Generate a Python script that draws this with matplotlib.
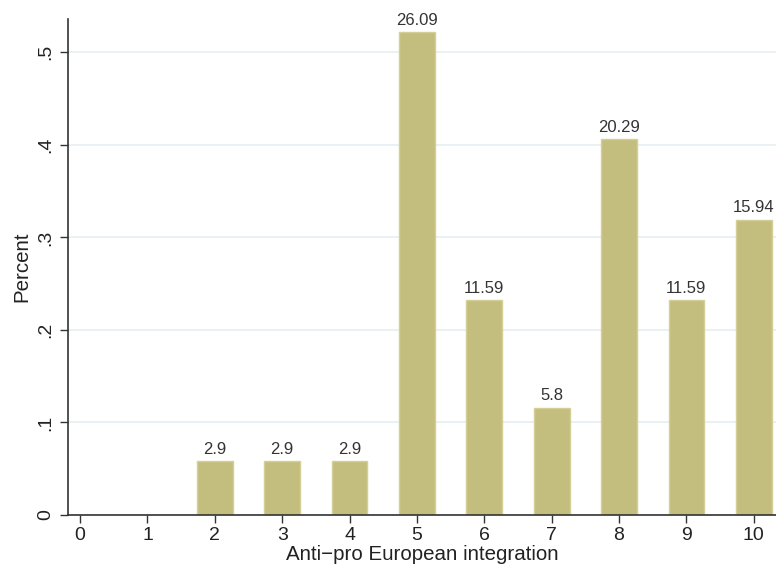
import matplotlib
matplotlib.use("Agg")
import matplotlib.pyplot as plt

plt.rcParams['font.family'] = ['Liberation Sans', 'DejaVu Sans']

categories = [2, 3, 4, 5, 6, 7, 8, 9, 10]
percent_labels = [2.9, 2.9, 2.9, 26.09, 11.59, 5.8, 20.29, 11.59, 15.94]
heights = [0.058, 0.058, 0.058, 0.5218, 0.2318, 0.116, 0.4058, 0.2318, 0.3188]
xticks = list(range(0, 11))
yticks = [0, 0.1, 0.2, 0.3, 0.4, 0.5]
yticklabels = ['0', '.1', '.2', '.3', '.4', '.5']

fig = plt.figure(figsize=(7.76, 5.68), dpi=100)
ax = fig.add_axes([68/776, 53/568, 1 - 68/776, (515-19)/568])

ax.set_axisbelow(True)
ax.yaxis.grid(True, color='#e6eff2', linewidth=1.2)
bars = ax.bar(categories, heights, width=0.53, color='#c4be7e', edgecolor='#d4cf98', linewidth=1.0)
for x, h, lab in zip(categories, heights, percent_labels):
    ax.text(x, h + 0.005, f'{lab:g}', ha='center', va='bottom', fontsize=12, color='#333333')

ax.set_xlim(-0.18, 10.33)
ax.set_ylim(0, 0.536)
ax.set_xticks(xticks)
ax.set_xticklabels([str(t) for t in xticks])
ax.set_yticks(yticks)
ax.set_yticklabels(yticklabels, rotation=90, va='center')
ax.tick_params(axis='both', labelsize=14, color='#333333', labelcolor='#222222', length=6, width=1.0)
ax.tick_params(axis='x', pad=3)
ax.tick_params(axis='y', pad=4)
ax.set_xlabel('Anti\u2212pro European integration', fontsize=14.8, color='#222222', labelpad=0)
ax.set_ylabel('Percent', fontsize=14.8, color='#222222', labelpad=4)
for s in ['top', 'right']:
    ax.spines[s].set_visible(False)
for s in ['left', 'bottom']:
    ax.spines[s].set_color('#333333')
    ax.spines[s].set_linewidth(1.2)

fig.savefig('out.png', dpi=100, facecolor='white')
